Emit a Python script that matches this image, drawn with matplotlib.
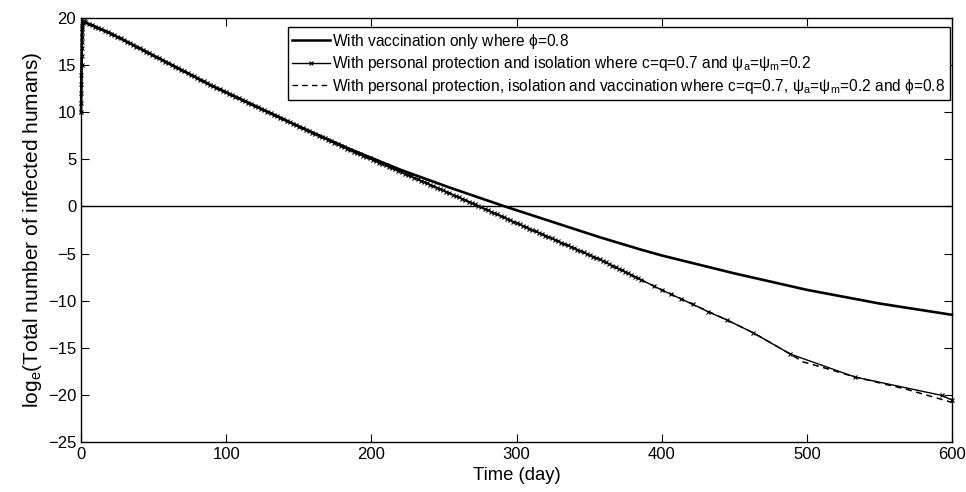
import matplotlib
matplotlib.use("Agg")
import matplotlib.pyplot as plt
import numpy as np

plt.rcParams['font.family'] = ['Liberation Sans', 'DejaVu Sans']
plt.rcParams['mathtext.fontset'] = 'custom'
plt.rcParams['mathtext.rm'] = 'Liberation Sans'
plt.rcParams['mathtext.it'] = 'Liberation Sans'
plt.rcParams['mathtext.default'] = 'regular'

# early rise, shared by all three runs
t_rise = [0, 0.08, 0.15, 0.22, 0.3, 0.37, 0.45, 0.52, 0.6, 0.7, 0.8, 0.9, 1.0, 1.2, 1.4, 1.7, 2.0]
y_rise = [10.0, 11.0, 12.0, 13.0, 14.0, 15.0, 16.0, 16.8, 17.5, 18.0, 18.5, 18.9, 19.2, 19.45, 19.6, 19.68, 19.7]

# vaccination only (phi = 0.8)
t_vacc = t_rise + [5, 20, 54, 89, 150, 185, 220, 254, 292, 330, 357, 385, 400, 450, 500, 550, 600]
y_vacc = y_rise + [19.4, 18.4, 15.7, 12.9, 8.5, 6.1, 3.9, 2.0, 0.0, -1.9, -3.25, -4.55, -5.2, -7.1, -8.85, -10.3, -11.5]

# personal protection + isolation (c=q=0.7, psi=0.2)
t_prot = t_rise + [5, 20, 54, 89, 150, 185, 220, 254, 300, 357, 375, 390.0, 394.6, 400.1, 406.3,
                   413.4, 421.7, 432.0, 445.1, 463.0, 488.7, 533.1, 592.8, 600]
y_prot = y_rise + [19.4, 18.4, 15.7, 12.9, 8.5, 6.0, 3.7, 1.4, -1.75, -5.6, -6.95, -8.1, -8.45, -8.87, -9.30,
                   -9.83, -10.4, -11.18, -12.06, -13.4, -15.67, -18.1, -20.05, -20.55]

# all three measures combined
t_comb = t_rise + [5, 20, 54, 89, 150, 185, 220, 254, 300, 357, 375, 390, 400.1, 421.7, 445.1, 463.0,
                   488.7, 497.5, 515.8, 533.1, 568.6, 600]
y_comb = y_rise + [19.4, 18.4, 15.7, 12.9, 8.5, 6.0, 3.7, 1.4, -1.75, -5.6, -6.95, -8.1, -8.87, -10.4, -12.06, -13.4,
                   -15.67, -16.5, -17.3, -18.1, -19.4, -20.8]

fig = plt.figure(figsize=(9.66, 4.92), dpi=100)
ax = fig.add_axes([0.0839, 0.1016, 0.9016, 0.8618])

ax.axhline(0, color='black', lw=1.0)
ax.plot(t_vacc, y_vacc, color='black', lw=1.9, clip_on=False, zorder=3)

# solver steps are dense early on: markers sit on the line every few days
n_rise = len(t_rise)
mk_t = np.concatenate([t_rise, np.arange(3, 388, 2.2), t_prot[n_rise + 12:]])
mk_y = np.interp(mk_t, t_prot, y_prot)
ax.plot(t_prot, y_prot, color='black', lw=1.0, clip_on=False, zorder=3)
ax.plot(mk_t, mk_y, ls='none', marker='x', ms=3.3, mew=0.8, color='black', clip_on=False, zorder=3)
ax.plot(t_comb, y_comb, color='black', lw=1.1, ls=(0, (4, 3)), clip_on=False, zorder=3)

# legend proxies
h1, = ax.plot([], [], color='black', lw=1.8)
h2, = ax.plot([], [], color='black', lw=1.0, marker='x', ms=3.3, mew=0.8)
h3, = ax.plot([], [], color='black', lw=1.0, ls=(0, (4, 3)))
leg = ax.legend([h1, h2, h3],
                [r'With vaccination only where $\phi$=0.8',
                 r'With personal protection and isolation where c=q=0.7 and $\psi_a$=$\psi_m$=0.2',
                 r'With personal protection, isolation and vaccination where c=q=0.7, $\psi_a$=$\psi_m$=0.2 and $\phi$=0.8'],
                loc='upper right', bbox_to_anchor=(0.9977, 0.9788), borderaxespad=0,
                fontsize=11.2, handlelength=2.4, handletextpad=0.15, borderpad=0.3,
                labelspacing=0.22, fancybox=False, framealpha=1, edgecolor='black')
leg.get_frame().set_linewidth(1.0)
leg.set_zorder(5)

ax.set_xlim(0, 600)
ax.set_ylim(-25, 20)
ax.set_xticks(np.arange(0, 601, 100))
ax.set_yticks(np.arange(-25, 21, 5))
ax.tick_params(direction='in', length=6, width=0.8, top=True, right=True, labelsize=12)
for s in ax.spines.values():
    s.set_linewidth(1.0)

ax.set_xlabel('Time (day)', fontsize=13.3)
ax.set_ylabel(r'log$_e$(Total number of infected humans)', fontsize=15, labelpad=3)

fig.savefig('out.png', dpi=100)
